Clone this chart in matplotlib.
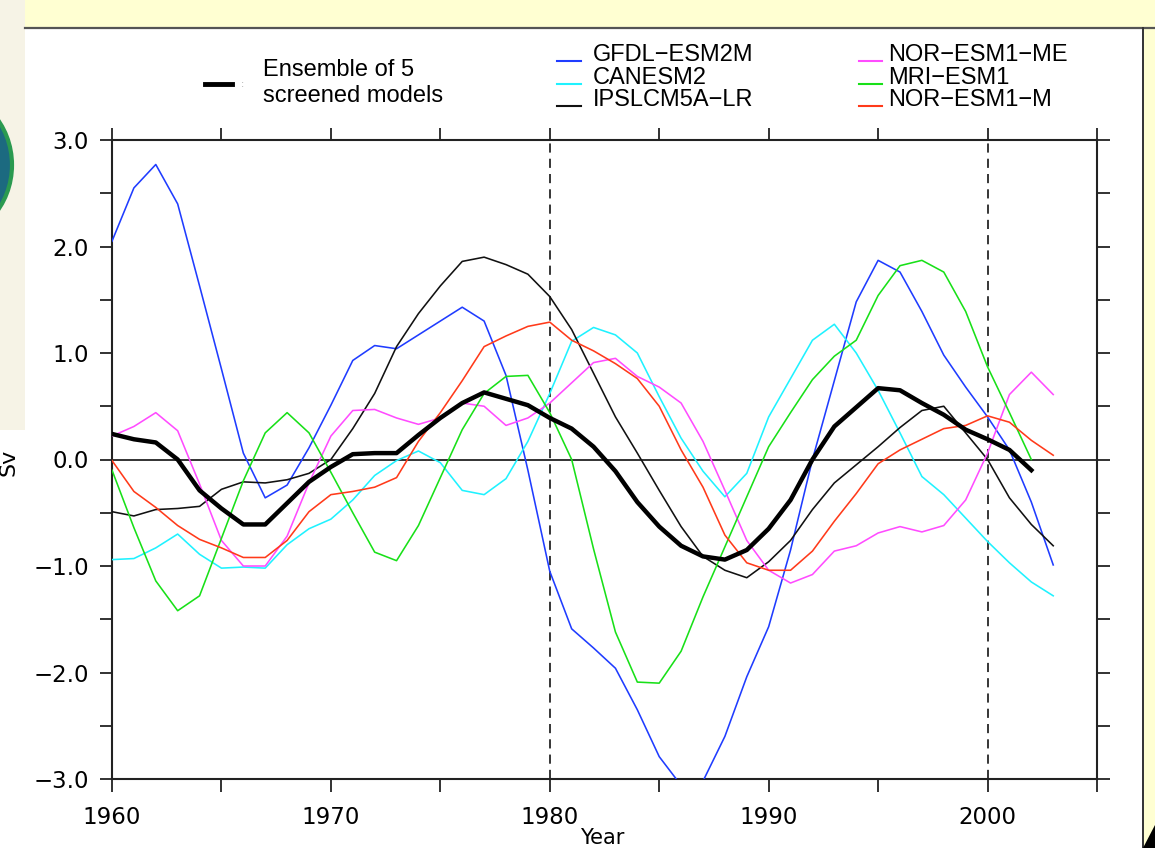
import matplotlib
matplotlib.use("Agg")
import matplotlib.pyplot as plt
from matplotlib.patches import Rectangle, Ellipse, Polygon
from matplotlib.lines import Line2D
from matplotlib.ticker import MultipleLocator, FuncFormatter

# ---------------- data ----------------
years = list(range(1960, 2004))          # 1960..2003
years_short = list(range(1960, 2003))    # 1960..2002

gfdl = [2.05, 2.55, 2.77, 2.40, 1.63, 0.85, 0.06, -0.36, -0.24, 0.11,
        0.51, 0.93, 1.07, 1.04, 1.17, 1.30, 1.43, 1.30, 0.79, -0.10,
        -1.05, -1.59, -1.77, -1.96, -2.35, -2.79, -3.06, -3.02, -2.60, -2.04,
        -1.57, -0.85, 0.00, 0.74, 1.48, 1.87, 1.76, 1.39, 0.98, 0.68,
        0.40, 0.09, -0.40, -0.99]
canesm2 = [-0.94, -0.93, -0.83, -0.70, -0.89, -1.02, -1.01, -1.02, -0.80, -0.65,
           -0.56, -0.38, -0.15, -0.01, 0.08, -0.03, -0.29, -0.33, -0.18, 0.17,
           0.62, 1.11, 1.24, 1.17, 1.00, 0.59, 0.20, -0.11, -0.35, -0.13,
           0.40, 0.76, 1.12, 1.27, 1.00, 0.65, 0.25, -0.16, -0.33, -0.55,
           -0.77, -0.97, -1.15, -1.28]
ipsl = [-0.49, -0.53, -0.47, -0.46, -0.44, -0.28, -0.21, -0.22, -0.19, -0.13,
        0.00, 0.29, 0.62, 1.06, 1.37, 1.63, 1.86, 1.90, 1.83, 1.74,
        1.53, 1.22, 0.81, 0.40, 0.06, -0.29, -0.63, -0.91, -1.04, -1.11,
        -0.96, -0.76, -0.47, -0.22, -0.05, 0.12, 0.30, 0.46, 0.50, 0.25,
        0.00, -0.36, -0.61, -0.81]
nor_me = [0.22, 0.31, 0.44, 0.27, -0.23, -0.76, -1.00, -1.00, -0.72, -0.22,
          0.22, 0.46, 0.47, 0.39, 0.33, 0.39, 0.53, 0.50, 0.32, 0.39,
          0.53, 0.72, 0.91, 0.95, 0.78, 0.68, 0.53, 0.17, -0.29, -0.76,
          -1.04, -1.16, -1.08, -0.86, -0.81, -0.69, -0.63, -0.68, -0.62, -0.38,
          0.06, 0.61, 0.82, 0.61]
mri = [-0.10, -0.64, -1.14, -1.42, -1.28, -0.74, -0.20, 0.25, 0.44, 0.25,
       -0.12, -0.50, -0.87, -0.95, -0.62, -0.17, 0.28, 0.62, 0.78, 0.79,
       0.44, 0.00, -0.84, -1.62, -2.09, -2.10, -1.80, -1.29, -0.82, -0.35,
       0.12, 0.44, 0.75, 0.97, 1.12, 1.54, 1.82, 1.87, 1.76, 1.39,
       0.87, 0.44, 0.00]
nor_m = [-0.01, -0.30, -0.45, -0.62, -0.75, -0.83, -0.92, -0.92, -0.76, -0.49,
         -0.33, -0.30, -0.26, -0.17, 0.17, 0.44, 0.74, 1.06, 1.16, 1.25,
         1.29, 1.12, 1.02, 0.90, 0.76, 0.50, 0.09, -0.26, -0.71, -0.97,
         -1.04, -1.04, -0.86, -0.58, -0.32, -0.04, 0.09, 0.19, 0.29, 0.32,
         0.41, 0.35, 0.18, 0.04]
ensemble = [0.24, 0.19, 0.16, 0.00, -0.29, -0.46, -0.61, -0.61, -0.41, -0.21,
            -0.07, 0.05, 0.06, 0.06, 0.23, 0.39, 0.53, 0.63, 0.57, 0.51,
            0.39, 0.29, 0.12, -0.11, -0.40, -0.63, -0.81, -0.91, -0.94, -0.85,
            -0.65, -0.38, 0.00, 0.31, 0.49, 0.67, 0.65, 0.53, 0.42, 0.28,
            0.19, 0.09, -0.10]

model_names_col1 = ["GFDL\u2212ESM2M", "CANESM2", "IPSLCM5A\u2212LR"]
model_names_col2 = ["NOR\u2212ESM1\u2212ME", "MRI\u2212ESM1", "NOR\u2212ESM1\u2212M"]
ensemble_label = "Ensemble of 5\nscreened models"
ref_years = [1980, 2000]

# ---------------- style ----------------
C_BLUE = "#1f3cff"
C_CYAN = "#1ff2ff"
C_BLACK = "#111111"
C_MAG = "#ff4cff"
C_GREEN = "#18e018"
C_RED = "#ff3a1a"

W, H = 1155, 848
fig = plt.figure(figsize=(W / 100, H / 100), dpi=100, facecolor="#FFFFD2")


def fx(x):
    return x / W


def fy(y):
    return 1 - y / H


# slide background pieces (drawn beneath the axes)
fig.patches.append(Rectangle((0, 0), fx(1143), fy(28),
                             transform=fig.transFigure, facecolor="white",
                             edgecolor="none", zorder=-5))
fig.patches.append(Rectangle((0, fy(430)), fx(25), 1 - fy(430),
                             transform=fig.transFigure, facecolor="#F6F3E6",
                             edgecolor="none", zorder=-4))
fig.patches.append(Ellipse((fx(-58), fy(165)), 2 * 70 / W, 2 * 75 / H,
                           transform=fig.transFigure, facecolor="#1c6a80",
                           edgecolor="#2a9a50", linewidth=3, zorder=-3))
fig.lines.append(Line2D([fx(25), fx(1155)], [fy(28), fy(28)], transform=fig.transFigure,
                        color="#555555", linewidth=1.6, zorder=-2))
fig.lines.append(Line2D([fx(1143), fx(1143)], [fy(28), 0], transform=fig.transFigure,
                        color="#333333", linewidth=1.4, zorder=-2))
fig.patches.append(Polygon([(fx(1143), 0), (fx(1155), fy(825)), (fx(1155), 0)], closed=True,
                           transform=fig.transFigure, facecolor="black",
                           edgecolor="none", zorder=-2))

# ---------------- axes ----------------
ax = fig.add_axes([fx(112), fy(779), fx(1097) - fx(112), fy(140) - fy(779)])
ax.set_zorder(5)
ax.set_facecolor("white")
ax.set_xlim(1960, 2005)
ax.set_ylim(-3, 3)

lw = 1.15
ax.plot(years, gfdl, color=C_BLUE, lw=lw, zorder=3)
ax.plot(years, canesm2, color=C_CYAN, lw=lw, zorder=3)
ax.plot(years, ipsl, color=C_BLACK, lw=lw, zorder=3)
ax.plot(years, nor_me, color=C_MAG, lw=lw, zorder=3)
ax.plot(years_short, mri, color=C_GREEN, lw=lw, zorder=3)
ax.plot(years, nor_m, color=C_RED, lw=lw, zorder=3)
ax.plot(years_short, ensemble, color="black", lw=3.2, zorder=4,
        solid_joinstyle="round")

ax.axhline(0, color="#333333", lw=1.4, zorder=2)
for yr in ref_years:
    ax.axvline(yr, color="black", lw=1.1, ls=(0, (6, 4)), zorder=2)

for s in ax.spines.values():
    s.set_color("#222222")
    s.set_linewidth(1.5)

ax.xaxis.set_major_locator(MultipleLocator(10))
ax.xaxis.set_minor_locator(MultipleLocator(5))
ax.yaxis.set_major_locator(MultipleLocator(1.0))
ax.yaxis.set_minor_locator(MultipleLocator(0.5))
ax.yaxis.set_major_formatter(FuncFormatter(lambda v, p: f"{v:.1f}".replace("-", "\u2212")))
ax.xaxis.set_major_formatter(FuncFormatter(lambda v, p: f"{int(v)}"))
ax.tick_params(which="both", direction="out", length=9, width=1.3, color="#222222",
               top=True, right=True, labeltop=False, labelright=False,
               labelsize=16.5)
ax.tick_params(axis="x", pad=10.5)
ax.tick_params(axis="y", pad=7.5)
for lab in ax.get_xticklabels() + ax.get_yticklabels():
    lab.set_family("DejaVu Sans")

# axis titles
fig.text(fx(9), fy(462), "Sv", rotation=90, ha="center", va="center", fontsize=16,
         family="DejaVu Sans", zorder=6)
fig.text(fx(602), fy(828), "Year", ha="center", va="top", fontsize=15,
         family="DejaVu Sans", zorder=6)

# ---------------- legends ----------------
fig.lines.append(Line2D([fx(205), fx(232)], [fy(84), fy(84)], transform=fig.transFigure,
                        color="black", linewidth=3.5, zorder=6))
fig.text(fx(243), fy(84), ":", color="#aaaaaa", fontsize=7, ha="center", va="center",
         zorder=6)
fig.text(fx(263), fy(83), ensemble_label, ha="left", va="center", fontsize=17,
         family="Liberation Sans", linespacing=1.25, zorder=6)

col1_colors = [C_BLUE, C_CYAN, C_BLACK]
col2_colors = [C_MAG, C_GREEN, C_RED]
rows_y = [61, 84, 106]
for name, col, yy in zip(model_names_col1, col1_colors, rows_y):
    fig.lines.append(Line2D([fx(557), fx(581)], [fy(yy), fy(yy)],
                            transform=fig.transFigure, color=col, linewidth=1.5, zorder=6))
    fig.text(fx(593), fy(yy), name, ha="left", va="baseline", fontsize=17,
             family="Liberation Sans", zorder=6)
for name, col, yy in zip(model_names_col2, col2_colors, rows_y):
    fig.lines.append(Line2D([fx(859), fx(882)], [fy(yy), fy(yy)],
                            transform=fig.transFigure, color=col, linewidth=1.5, zorder=6))
    fig.text(fx(888), fy(yy), name, ha="left", va="baseline", fontsize=17,
             family="Liberation Sans", zorder=6)

fig.savefig("out.png", dpi=100, facecolor=fig.get_facecolor())
